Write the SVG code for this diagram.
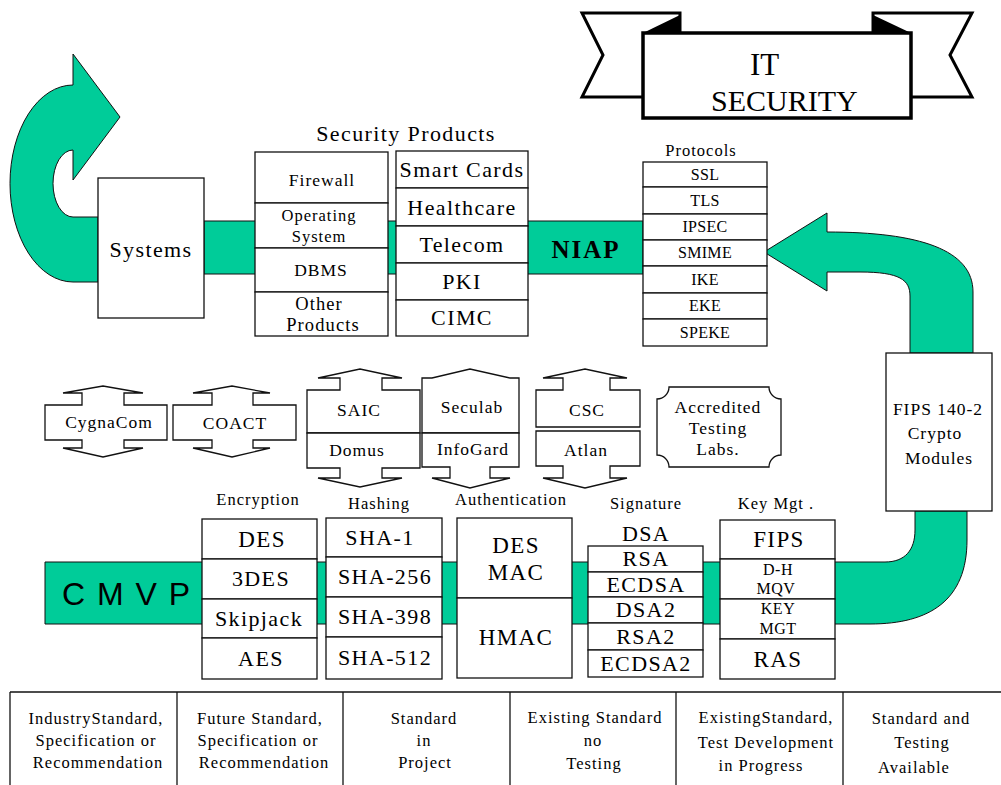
<svg xmlns="http://www.w3.org/2000/svg" width="1001" height="785" viewBox="0 0 1001 785">
<style>
.g{fill:#00CC99;stroke:#111;stroke-width:1}
.b{fill:#fff;stroke:#111;stroke-width:1.3}
.ln{stroke:#111;stroke-width:1.3;fill:none}
text{fill:#000;text-anchor:middle}
.s15{font-size:16.5px;letter-spacing:1px}
.s16{font-size:17.5px;letter-spacing:1px}
.s17{font-size:18.5px;letter-spacing:1.1px}
.s20{font-size:22px;letter-spacing:1.4px}
.s21{font-size:23px;letter-spacing:1.4px}
.p16{font-size:16px;letter-spacing:0.3px}
.k16{font-size:16px;letter-spacing:0.5px}
</style>
<rect width="1001" height="785" fill="#fff"/>

<g id="connectors">
  <path class="g" d="M98 282 L73 282 A63 98.5 0 0 1 73 85 L73 54 L120 117 L73 180 L73 150 A20 33.5 0 0 0 73 217 L98 217 Z"/>
  <rect class="g" x="204" y="221" width="439" height="53"/>
  <path class="g" d="M764 252 L827 213 L827 232 C920 232 973 250 973 292 L973 353 L910 353 L910 296 C910 280 900 272 860 272 L827 272 L827 291 Z"/>
  <path class="g" d="M45 562 L885 562 C905 562 915 550 915 530 L915 511 L967 511 L967 540 C967 600 930 624 870 624 L45 624 Z"/>
</g>

<g font-family="Liberation Serif, Times New Roman, serif">
<g id="banner">
  <polygon points="582,13 680,13 680,97 582,97 603,55" fill="#fff" stroke="#000" stroke-width="3"/>
  <polygon points="873,13 972,13 950,55 972,97 873,97" fill="#fff" stroke="#000" stroke-width="3"/>
  <polygon points="643,33 680,15 680,33" fill="#000"/>
  <polygon points="873,15 873,33 911,33" fill="#000"/>
  <rect x="643" y="33" width="268" height="85" fill="#fff" stroke="#000" stroke-width="3.5"/>
  <text x="750" y="75" font-size="31" style="text-anchor:start">IT</text>
  <text x="711" y="111" font-size="30" style="text-anchor:start">SECURITY</text>
</g>

<g id="systems">
  <rect class="b" x="98" y="178" width="106" height="140"/>
  <text class="s20" x="151" y="257">Systems</text>
</g>

<g id="security-products">
  <text class="s20" x="406" y="141">Security  Products</text>
  <rect class="b" x="255" y="152" width="133" height="51"/>
  <text class="s16" x="322" y="186">Firewall</text>
  <rect class="b" x="255" y="203" width="133" height="45"/>
  <text class="s15" x="319" y="221">Operating</text>
  <text class="s15" x="319" y="242">System</text>
  <rect class="b" x="255" y="248" width="133" height="44"/>
  <text class="s16" x="321" y="276">DBMS</text>
  <rect class="b" x="255" y="292" width="133" height="44"/>
  <text class="s17" x="319" y="310">Other</text>
  <text class="s17" x="323" y="331">Products</text>

  <rect class="b" x="396" y="151" width="132" height="37"/>
  <text class="s20" x="462" y="177">Smart Cards</text>
  <rect class="b" x="396" y="188" width="132" height="38"/>
  <text class="s20" x="462" y="215">Healthcare</text>
  <rect class="b" x="396" y="226" width="132" height="37"/>
  <text class="s20" x="462" y="252">Telecom</text>
  <rect class="b" x="396" y="263" width="132" height="37"/>
  <text class="s20" x="462" y="289">PKI</text>
  <rect class="b" x="396" y="300" width="132" height="36"/>
  <text class="s20" x="462" y="325">CIMC</text>
</g>

<g id="niap">
  <text x="586" y="258" font-size="25" font-weight="bold" letter-spacing="2">NIAP</text>
</g>

<g id="protocols">
  <text class="s15" x="701" y="156">Protocols</text>
  <rect class="b" x="643" y="162" width="124" height="25"/>
  <text class="p16" x="705" y="180">SSL</text>
  <rect class="b" x="643" y="187" width="124" height="27"/>
  <text class="p16" x="705" y="206">TLS</text>
  <rect class="b" x="643" y="214" width="124" height="26"/>
  <text class="p16" x="705" y="232">IPSEC</text>
  <rect class="b" x="643" y="240" width="124" height="26"/>
  <text class="p16" x="705" y="258">SMIME</text>
  <rect class="b" x="643" y="266" width="124" height="27"/>
  <text class="p16" x="705" y="285">IKE</text>
  <rect class="b" x="643" y="293" width="124" height="26"/>
  <text class="p16" x="705" y="311">EKE</text>
  <rect class="b" x="643" y="319" width="124" height="27"/>
  <text class="p16" x="705" y="338">SPEKE</text>
</g>

<g id="fips-140-2">
  <rect class="b" x="886" y="353" width="106" height="158"/>
  <text class="s16" x="938" y="415">FIPS 140-2</text>
  <text class="s16" x="935" y="439">Crypto</text>
  <text class="s16" x="939" y="464">Modules</text>
</g>

<g id="cygnacom">
  <path class="b" d="M45 405 H82 V393 H63 L103 386 L143 393 H124 V405 H167 V440 H124 V448 H143 L103 457 L63 448 H82 V440 H45 Z"/>
  <text class="s16" x="109" y="428">CygnaCom</text>
</g>
<g id="coact">
  <path class="b" d="M173 405 H212 V393 H193 L232 386 L270 393 H253 V405 H296 V440 H253 V448 H270 L232 457 L193 448 H212 V440 H173 Z"/>
  <text class="s16" x="235" y="429">COACT</text>
</g>
<g id="saic">
  <path class="b" d="M307 390 H340 V378 H318 L360 369 L402 378 H382 V390 H420 V433 H307 Z"/>
  <text class="s16" x="359" y="416">SAIC</text>
</g>
<g id="domus">
  <path class="b" d="M307 433 H420 V468 H382 V478 H402 L360 487 L318 478 H340 V468 H307 Z"/>
  <text class="s16" x="357" y="456">Domus</text>
</g>
<g id="seculab">
  <path class="b" d="M422 378 H432 L470 369 L510 378 H519 V433 H422 Z"/>
  <text class="s16" x="472" y="413">Seculab</text>
</g>
<g id="infogard">
  <path class="b" d="M422 433 H519 V467 H490 V478 H510 L470 488 L432 478 H450 V467 H422 Z"/>
  <text class="s16" x="473" y="455">InfoGard</text>
</g>
<g id="csc">
  <path class="b" d="M536 390 H563 V378 H543 L585 369 L627 378 H610 V390 H640 V427 H536 Z"/>
  <text class="s16" x="587" y="416">CSC</text>
</g>
<g id="atlan">
  <path class="b" d="M536 431 H640 V466 H610 V478 H627 L585 488 L543 478 H563 V466 H536 Z"/>
  <text class="s16" x="586" y="456">Atlan</text>
</g>
<g id="accredited-testing-labs">
  <path class="b" d="M669 387 H769 A12 12 0 0 0 781 399 V455 A12 12 0 0 0 769 467 H669 A12 12 0 0 0 657 455 V399 A12 12 0 0 0 669 387 Z"/>
  <text class="s16" x="718" y="413">Accredited</text>
  <text class="s16" x="718" y="434">Testing</text>
  <text class="s16" x="718" y="455">Labs.</text>
</g>

<g id="cmvp">
  <text x="62" y="605" font-size="32" letter-spacing="1.5" font-family="Liberation Sans, Arial, sans-serif" style="text-anchor:start">C M V P</text>
</g>

<g id="encryption">
  <text class="s15" x="258" y="505">Encryption</text>
  <rect class="b" x="202" y="519" width="115" height="40"/>
  <text class="s21" x="262" y="547">DES</text>
  <rect class="b" x="202" y="559" width="115" height="40"/>
  <text class="s20" x="261" y="586">3DES</text>
  <rect class="b" x="202" y="599" width="115" height="39"/>
  <text class="s20" x="259" y="626">Skipjack</text>
  <rect class="b" x="202" y="638" width="115" height="41"/>
  <text class="s20" x="261" y="666">AES</text>
</g>

<g id="hashing">
  <text class="s15" x="379" y="509">Hashing</text>
  <rect class="b" x="326" y="518" width="116" height="39"/>
  <text class="s20" x="380" y="545">SHA-1</text>
  <rect class="b" x="326" y="557" width="116" height="40"/>
  <text class="s20" x="385" y="584">SHA-256</text>
  <rect class="b" x="326" y="597" width="116" height="40"/>
  <text class="s20" x="385" y="624">SHA-398</text>
  <rect class="b" x="326" y="637" width="116" height="42"/>
  <text class="s20" x="385" y="665">SHA-512</text>
</g>

<g id="authentication">
  <text class="s15" x="511" y="505">Authentication</text>
  <rect class="b" x="457" y="518" width="115" height="80"/>
  <rect class="b" x="457" y="598" width="115" height="80"/>
  <text class="s21" x="516" y="553">DES</text>
  <text class="s21" x="516" y="580">MAC</text>
  <text class="s21" x="516" y="645">HMAC</text>
</g>

<g id="signature">
  <text class="s15" x="646" y="509">Signature</text>
  <text class="s20" x="646" y="541">DSA</text>
  <rect class="b" x="588" y="546" width="115" height="26"/>
  <text class="s20" x="646" y="566">RSA</text>
  <rect class="b" x="588" y="572" width="115" height="25"/>
  <text class="s20" x="646" y="592">ECDSA</text>
  <rect class="b" x="588" y="597" width="115" height="26"/>
  <text class="s20" x="646" y="617">DSA2</text>
  <rect class="b" x="588" y="623" width="115" height="27"/>
  <text class="s20" x="646" y="644">RSA2</text>
  <rect class="b" x="588" y="650" width="115" height="27"/>
  <text class="s20" x="646" y="671">ECDSA2</text>
</g>

<g id="key-mgt">
  <text class="s15" x="776" y="509">Key Mgt .</text>
  <rect class="b" x="720" y="520" width="115" height="39"/>
  <text class="s21" x="779" y="547">FIPS</text>
  <rect class="b" x="720" y="559" width="115" height="40"/>
  <text class="k16" x="778" y="575">D-H</text>
  <text class="k16" x="776" y="594">MQV</text>
  <rect class="b" x="720" y="599" width="115" height="40"/>
  <text class="k16" x="778" y="614">KEY</text>
  <text class="k16" x="778" y="634">MGT</text>
  <rect class="b" x="720" y="639" width="115" height="40"/>
  <text class="s21" x="778" y="667">RAS</text>
</g>

<g id="legend">
  <line class="ln" x1="10" y1="692" x2="1001" y2="692"/>
  <line class="ln" x1="10" y1="692" x2="10" y2="785"/>
  <line class="ln" x1="177" y1="692" x2="177" y2="785"/>
  <line class="ln" x1="343" y1="692" x2="343" y2="785"/>
  <line class="ln" x1="510" y1="692" x2="510" y2="785"/>
  <line class="ln" x1="676" y1="692" x2="676" y2="785"/>
  <line class="ln" x1="843" y1="692" x2="843" y2="785"/>
  <g class="s15">
    <text x="96" y="724">IndustryStandard,</text>
    <text x="96" y="746">Specification or</text>
    <text x="98" y="768">Recommendation</text>
    <text x="260" y="724">Future Standard,</text>
    <text x="258" y="746">Specification or</text>
    <text x="264" y="768">Recommendation</text>
    <text x="424" y="724">Standard</text>
    <text x="424" y="746">in</text>
    <text x="425" y="768">Project</text>
    <text x="595" y="723">Existing Standard</text>
    <text x="593" y="746">no</text>
    <text x="594" y="769">Testing</text>
    <text x="766" y="723">ExistingStandard,</text>
    <text x="766" y="748">Test  Development</text>
    <text x="761" y="771">in Progress</text>
    <text x="921" y="724">Standard and</text>
    <text x="922" y="748">Testing</text>
    <text x="914" y="773">Available</text>
  </g>
</g>
</g>
</svg>
